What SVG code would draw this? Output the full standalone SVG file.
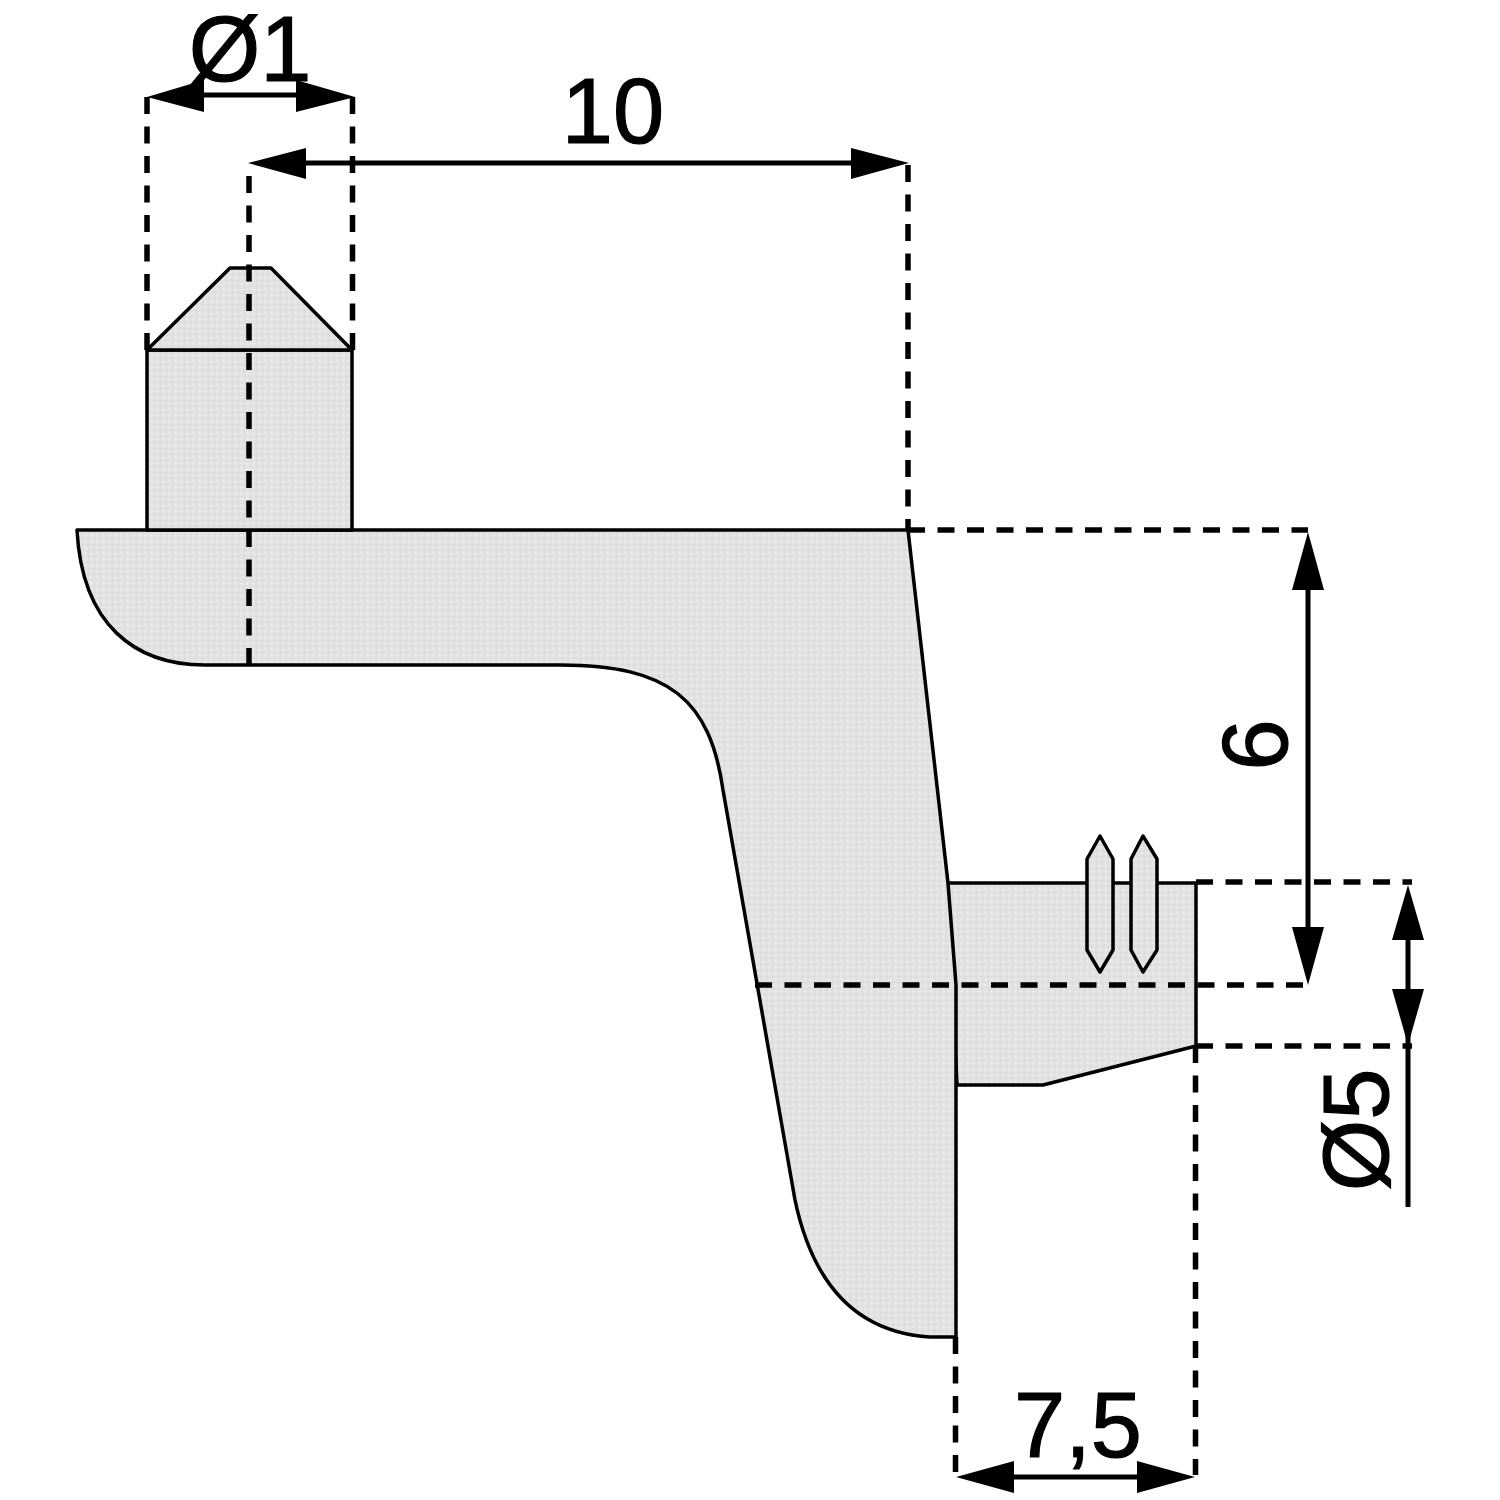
<svg xmlns="http://www.w3.org/2000/svg" width="1500" height="1500" viewBox="0 0 1500 1500">
<style>
.part{fill:url(#dots);stroke:#000;stroke-width:3.500;stroke-linejoin:round}
.dash{fill:none;stroke:#000;stroke-width:5.500;stroke-dasharray:17 12.500}
.dim{fill:none;stroke:#000;stroke-width:5}
.head{fill:#000;stroke:none}
text{font-family:"Liberation Sans",Arial,sans-serif;font-size:92px;fill:#000;stroke:#000;stroke-width:1.200}
</style>
<defs>
<pattern id="dots" width="6" height="6" patternUnits="userSpaceOnUse">
<rect width="6" height="6" fill="#e2e2e2"/>
<circle cx="1.500" cy="1.500" r="1" fill="#efefef"/>
<circle cx="4.500" cy="4.500" r="1" fill="#d9d9d9"/>
</pattern>
</defs>
<rect width="1500" height="1500" fill="#fff"/>
<g id="bracket">
<path class="part" d="M947,883 H1196 V1046 L1043,1085 H957 Z"/>
<path class="part" d="M77,530 H908 L948,883 L956,985 V1337 H930 C865,1333 815,1295 795,1200 L723,790 C710,700 670,665 560,665 H205 C135,665 82,625 77,530 Z"/>
</g>
<g id="pin">
<rect class="part" x="147" y="350" width="205" height="180"/>
<path class="part" d="M147,350 L230,268 H271 L352,350 Z"/>
</g>
<g id="barb-1"><path class="part" d="M1100,836 L1113,859 V950 L1100,972 L1087,950 V859 Z"/></g>
<g id="barb-2"><path class="part" d="M1143,836 L1157,859 V950 L1143,972 L1131,950 V859 Z"/></g>
<g id="connectors">
<path class="dash" d="M147,97 V350"/>
<path class="dash" d="M352.500,97 V350"/>
<path class="dash" d="M249,176 V665"/>
<path class="dash" d="M908,165 V530"/>
<path class="dash" d="M908,530 H1308"/>
<path class="dash" d="M1196,882 H1412"/>
<path class="dash" d="M755,985 H1305"/>
<path class="dash" d="M1196,1046 H1412"/>
<path class="dash" d="M1195.500,1046 V1475"/>
<path class="dash" d="M955.500,1337 V1472"/>
<path class="dim" d="M204,95 H296"/>
<path class="head" d="M147,97 L204,80 V112 Z"/>
<path class="head" d="M355,97 L296,80 V112 Z"/>
<path class="dim" d="M306,163 H851"/>
<path class="head" d="M248,163 L306,148 V179 Z"/>
<path class="head" d="M909,163 L851,148 V179 Z"/>
<path class="dim" d="M1308,590 V927"/>
<path class="head" d="M1308,532 L1292,590 H1324 Z"/>
<path class="head" d="M1308,985 L1292,927 H1324 Z"/>
<path class="dim" d="M1408,940 V1207"/>
<path class="head" d="M1408,885 L1392,940 H1424 Z"/>
<path class="head" d="M1408,1045 L1392,989 H1424 Z"/>
<path class="dim" d="M1014,1477 H1137"/>
<path class="head" d="M956,1477 L1014,1461 V1493 Z"/>
<path class="head" d="M1195,1477 L1137,1461 V1493 Z"/>
</g>
<g id="labels">
<text x="250" y="81" text-anchor="middle">Ø1</text>
<text x="613" y="143" text-anchor="middle">10</text>
<text x="1078" y="1457" text-anchor="middle">7,5</text>
<text transform="translate(1287,745) rotate(-90)" text-anchor="middle">6</text>
<text transform="translate(1388,1130) rotate(-90)" text-anchor="middle">Ø5</text>
</g>
</svg>
